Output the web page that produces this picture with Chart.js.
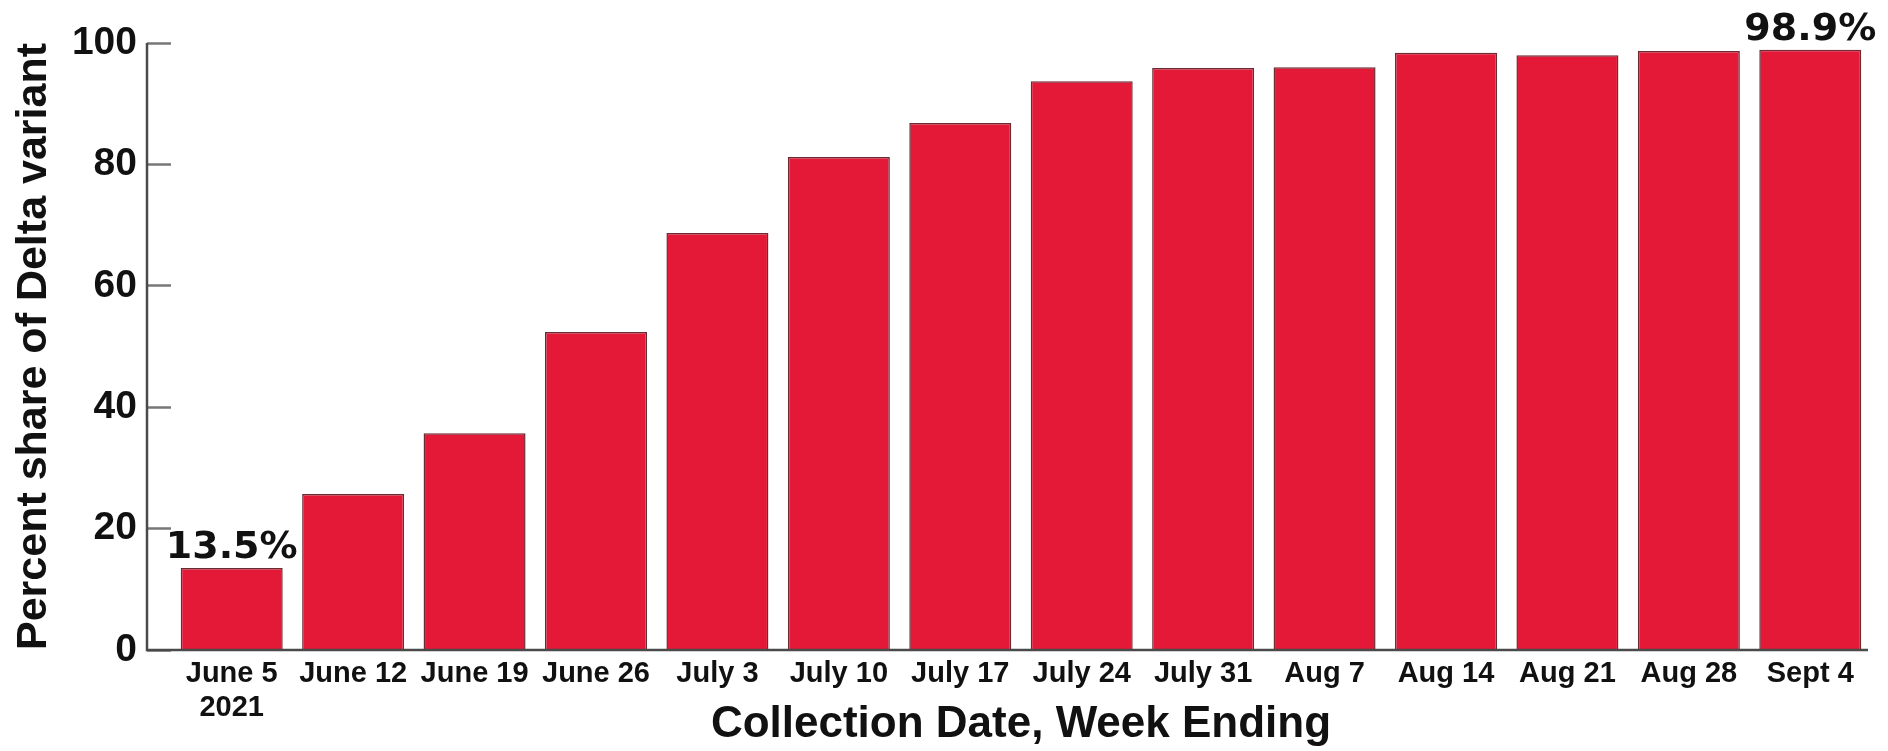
<!DOCTYPE html>
<html>
<head>
<meta charset="utf-8">
<script src="https://cdn.jsdelivr.net/npm/chart.js@4.4.1/dist/chart.umd.min.js"></script>
<style>
  html, body { margin: 0; padding: 0; background: #fff; }
  #wrap { width: 1888px; height: 751px; position: relative; }
</style>
</head>
<body>
<div id="wrap"><canvas id="deltaChart"></canvas></div>
<script>
// Week-ending dates and share of Delta variant (%)
var weekLabels = [['June 5', '2021'], 'June 12', 'June 19', 'June 26', 'July 3', 'July 10', 'July 17',
  'July 24', 'July 31', 'Aug 7', 'Aug 14', 'Aug 21', 'Aug 28', 'Sept 4'];
var deltaShare = [13.5, 25.7, 35.7, 52.4, 68.7, 81.2, 86.8, 93.7, 95.9, 96.0, 98.4, 98.0, 98.7, 98.9];
var yTicks = [0, 20, 40, 60, 80, 100];
// bars that get a value label on top
var labeledBars = [0, 13];

var FONT = '"Liberation Sans", Arial, Helvetica, sans-serif';
var AXIS_GAP = 24;

// draws the axis lines offset to the left of the plot area, plus the value labels
var axisAndLabels = {
  id: 'axisAndLabels',
  afterDatasetsDraw: function (chart) {
    var ctx = chart.ctx;
    var area = chart.chartArea;
    var y = chart.scales.y;
    var x0 = area.left - AXIS_GAP;
    ctx.save();
    ctx.strokeStyle = '#4a4a4a';
    ctx.lineWidth = 2.5;
    ctx.beginPath();
    ctx.moveTo(x0, y.getPixelForValue(yTicks[yTicks.length - 1]));
    ctx.lineTo(x0, y.getPixelForValue(0));
    ctx.lineTo(area.right - 3, y.getPixelForValue(0));
    ctx.stroke();

    var meta = chart.getDatasetMeta(0);
    ctx.fillStyle = '#111';
    ctx.font = 'bold 38px "DejaVu Sans", sans-serif';
    ctx.textAlign = 'center';
    ctx.textBaseline = 'alphabetic';
    labeledBars.forEach(function (i) {
      var bar = meta.data[i];
      ctx.fillText(deltaShare[i].toFixed(1) + '%', bar.x, bar.y - 10);
    });
    ctx.restore();
  }
};

var ctx = document.getElementById('deltaChart');
new Chart(ctx, {
  type: 'bar',
  data: {
    labels: weekLabels,
    datasets: [{
      data: deltaShare,
      backgroundColor: '#e31937',
      borderColor: '#6e2a33',
      borderWidth: 1.5,
      barPercentage: 0.84,
      categoryPercentage: 1.0
    }]
  },
  options: {
    responsive: true,
    maintainAspectRatio: false,
    animation: false,
    devicePixelRatio: 1,
    layout: { padding: { top: 43, right: 17, left: 0, bottom: 0 } },
    plugins: {
      legend: { display: false },
      tooltip: { enabled: false }
    },
    scales: {
      x: {
        grid: { display: false, drawTicks: false },
        border: { display: false },
        ticks: {
          color: '#111',
          padding: 7,
          maxRotation: 0,
          autoSkip: false,
          font: { family: FONT, weight: 'bold', size: 29, lineHeight: 1.17 }
        },
        title: {
          display: true,
          text: 'Collection Date, Week Ending',
          color: '#111',
          padding: { top: 0, bottom: 0 },
          font: { family: FONT, weight: 'bold', size: 44, lineHeight: 1.2 }
        },
        afterFit: function (scale) { scale.height = 101; }
      },
      y: {
        min: 0,
        max: 100,
        afterBuildTicks: function (scale) {
          scale.ticks = yTicks.map(function (v) { return { value: v }; });
        },
        grid: {
          drawOnChartArea: false,
          drawTicks: true,
          tickLength: AXIS_GAP,
          tickWidth: 2.5,
          tickColor: '#777'
        },
        border: { display: false },
        ticks: {
          color: '#111',
          padding: 10,
          font: { family: FONT, weight: 'bold', size: 39 }
        },
        title: {
          display: true,
          text: 'Percent share of Delta variant',
          color: '#111',
          padding: { top: 8, bottom: 0 },
          font: { family: FONT, weight: 'bold', size: 43, lineHeight: 1.2 }
        },
        afterFit: function (scale) { scale.width = 171; }
      }
    }
  },
  plugins: [axisAndLabels]
});
</script>
</body>
</html>
